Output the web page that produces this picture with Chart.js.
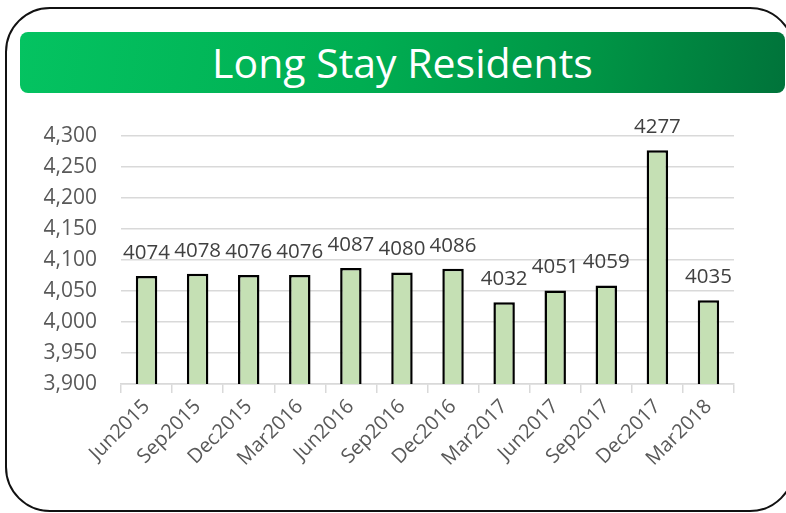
<!DOCTYPE html>
<html>
<head>
<meta charset="utf-8">
<script src="https://cdn.jsdelivr.net/npm/chart.js@4/dist/chart.umd.min.js"></script>
<style>
  html, body { margin: 0; padding: 0; background: #fff; width: 786px; height: 513px; overflow: hidden; }
  #frame { position: absolute; left: 5px; top: 7px; width: 786px; height: 501px; border: 2.5px solid #111; border-radius: 45px; box-sizing: content-box; }
  #banner { position: absolute; left: 20px; top: 32px; width: 765px; height: 61px; border-radius: 8px;
    background: linear-gradient(100deg, #04c361 0%, #00ae52 45%, #009445 75%, #00733a 100%);
    color: #fff; font-family: "Open Sans", sans-serif; font-size: 41px; text-align: center; line-height: 61px; }
  #c { position: absolute; left: 0; top: 0; }
</style>
</head>
<body>
<div id="frame"></div>
<div id="banner">Long Stay Residents</div>
<canvas id="c" width="786" height="513"></canvas>
<script>
const categories = ["Jun2015","Sep2015","Dec2015","Mar2016","Jun2016","Sep2016","Dec2016","Mar2017","Jun2017","Sep2017","Dec2017","Mar2018"];
const residents = [4074, 4078, 4076, 4076, 4087, 4080, 4086, 4032, 4051, 4059, 4277, 4035];
const yMin = 3900;
const yMax = 4300;
const yStep = 50;

const labelPlugin = {
  id: 'barLabels',
  afterDatasetsDraw(chart) {
    const ctx = chart.ctx;
    const meta = chart.getDatasetMeta(0);
    ctx.save();
    ctx.font = '20.5px "Open Sans"';
    ctx.fillStyle = '#404040';
    ctx.textAlign = 'center';
    ctx.textBaseline = 'alphabetic';
    meta.data.forEach((el, i) => {
      ctx.fillText(String(residents[i]), el.x, el.y - 17);
    });
    ctx.restore();
  }
};

new Chart(document.getElementById('c'), {
  type: 'bar',
  data: {
    labels: categories,
    datasets: [{
      data: residents,
      backgroundColor: '#c5e0b4',
      borderColor: '#000000',
      borderWidth: 2.5,
      barPercentage: 0.42,
      categoryPercentage: 1.0
    }]
  },
  options: {
    responsive: false,
    animation: false,
    devicePixelRatio: 1,
    layout: { padding: { left: 0, right: 52, top: 136, bottom: 0 } },
    plugins: { legend: { display: false }, title: { display: false }, tooltip: { enabled: false } },
    scales: {
      y: {
        min: yMin, max: yMax,
        afterFit(scale) { scale.width = 121; },
        border: { display: false },
        grid: { color: '#d9d9d9', lineWidth: 1.5, drawTicks: false },
        ticks: {
          stepSize: yStep,
          padding: 24,
          color: '#595959',
          font: { family: 'Open Sans', size: 21 },
          callback: v => Number(v).toLocaleString('en-US')
        }
      },
      x: {
        afterFit(scale) { scale.height = 129; },
        border: { color: '#d9d9d9', width: 1.5 },
        grid: { drawOnChartArea: false, color: '#d9d9d9', lineWidth: 1.5, tickLength: 9, offset: true },
        ticks: {
          minRotation: 45, maxRotation: 45,
          padding: 2,
          color: '#595959',
          font: { family: 'Open Sans', size: 20 }
        }
      }
    }
  },
  plugins: [labelPlugin]
});
</script>
</body>
</html>
